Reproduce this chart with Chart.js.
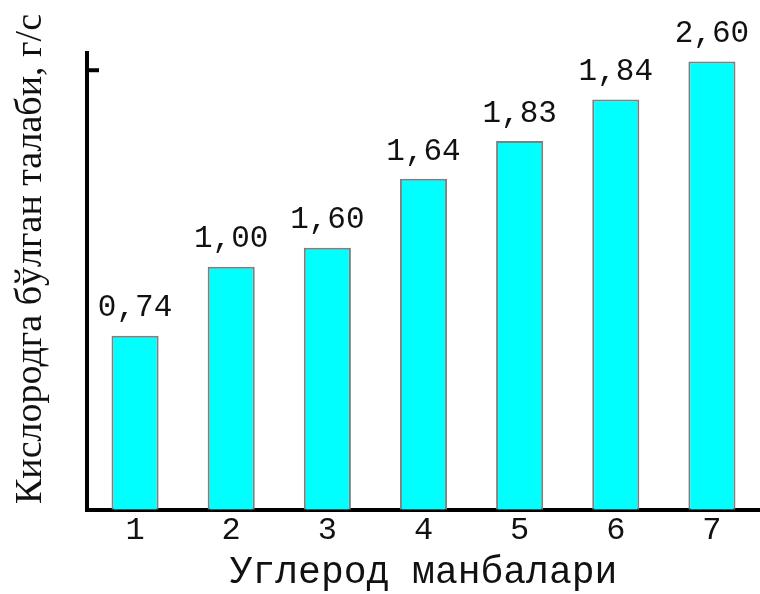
<!DOCTYPE html>
<html lang="uz">
<head>
  <meta charset="UTF-8">
  <title>Кислородга бўлган талаби</title>
  <script src="https://cdn.jsdelivr.net/npm/chart.js@4"></script>
  <style>
    html, body {
      margin: 0;
      padding: 0;
      background: #fff;
    }
    #wrap {
      width: 760px;
      height: 594px;
    }
  </style>
</head>
<body>
  <div id="wrap"><canvas id="oxChart"></canvas></div>

  <script>
// carbon sources (x categories)
const sources = ['1', '2', '3', '4', '5', '6', '7'];
// printed values above the bars, g/s
const oxygenDemand = ['0,74', '1,00', '1,60', '1,64', '1,83', '1,84', '2,60'];
// bar heights as drawn in the figure (its scale is uneven, bar 7 = 2.60)
const barHeights = [1.01, 1.41, 1.52, 1.92, 2.14, 2.38, 2.60];
// single unlabeled tick on the y axis
const yTickMarks = [2.55];

const xTitle = 'Углерод манбалари';
const yTitle = 'Кислородга бўлган талаби, г/с';

// value labels, inward y tick and the rotated y title
const extras = {
  id: 'extras',
  afterDatasetsDraw(chart) {
    const ctx = chart.ctx;
    const yScale = chart.scales.y;
    const area = chart.chartArea;
    ctx.save();

    // labels over bars
    ctx.font = '31px "Liberation Mono", monospace';
    ctx.fillStyle = '#111';
    ctx.textAlign = 'center';
    ctx.textBaseline = 'bottom';
    chart.getDatasetMeta(0).data.forEach((bar, i) => {
      ctx.fillText(oxygenDemand[i], bar.x, bar.y - 12);
    });

    // tick pointing into the plot
    ctx.strokeStyle = '#000';
    ctx.lineWidth = 4;
    yTickMarks.forEach(v => {
      const y = yScale.getPixelForValue(v);
      ctx.beginPath();
      ctx.moveTo(area.left, y);
      ctx.lineTo(area.left + 12, y);
      ctx.stroke();
    });

    // y axis title
    ctx.translate(31, 259);
    ctx.rotate(-Math.PI / 2);
    ctx.font = '38px "Liberation Serif", serif';
    ctx.fillStyle = '#111';
    ctx.textBaseline = 'middle';
    ctx.fillText(yTitle, 0, 0);
    ctx.restore();
  }
};

new Chart(document.getElementById('oxChart'), {
  type: 'bar',
  data: {
    labels: sources,
    datasets: [{
      data: barHeights,
      backgroundColor: '#00ffff',
      borderColor: '#7f7f7f',
      borderWidth: 2,
      barPercentage: 0.49,
      categoryPercentage: 1
    }]
  },
  options: {
    responsive: true,
    maintainAspectRatio: false,
    animation: false,
    layout: {
      padding: { left: 87, top: 53, right: 0, bottom: 0 }
    },
    plugins: {
      legend: { display: false },
      tooltip: { enabled: false }
    },
    scales: {
      x: {
        grid: { display: false, drawTicks: false },
        border: { display: true, color: '#000', width: 4 },
        ticks: {
          padding: 2,
          color: '#111',
          font: { family: '"Liberation Mono", monospace', size: 32 }
        },
        title: {
          display: true,
          text: xTitle,
          color: '#111',
          padding: 0,
          font: { family: '"Liberation Mono", monospace', size: 38, lineHeight: 1.1 }
        }
      },
      y: {
        min: 0,
        max: 2.65,
        grid: { display: false, drawTicks: false },
        border: { display: true, color: '#000', width: 4 },
        ticks: { display: false }
      }
    }
  },
  plugins: [extras]
});
  </script>
</body>
</html>
